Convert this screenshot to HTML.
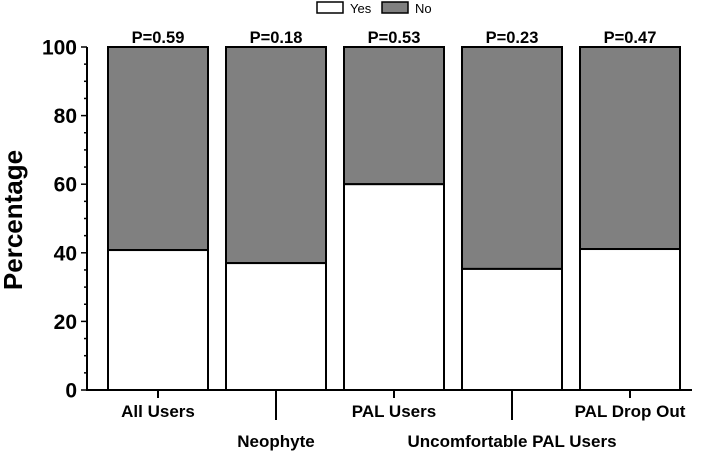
<!DOCTYPE html>
<html><head><meta charset="utf-8"><style>
body{margin:0;background:#fff}
svg{font-family:"Liberation Sans",Arial,sans-serif;font-weight:bold}
</style></head><body>
<svg width="702" height="454">
<g id="axes"></g><g id="bars"></g>
<g>
<rect x="317" y="2" width="26" height="11" fill="#fff" stroke="#000" stroke-width="1.5"/>
<text x="350" y="13" font-size="13" font-weight="normal">Yes</text>
<rect x="382" y="2" width="26" height="11" fill="#808080" stroke="#000" stroke-width="1.5"/>
<text x="415" y="13" font-size="13" font-weight="normal">No</text>
</g>
<text transform="translate(22,220) rotate(-90)" text-anchor="middle" font-size="26">Percentage</text>
</svg>
<script>
const categories=["All Users","Neophyte","PAL Users","Uncomfortable PAL Users","PAL Drop Out"];
const yesValues=[40.8,37,60,35.3,41.1];
const pLabels=["P=0.59","P=0.18","P=0.53","P=0.23","P=0.47"];
const yTicks=[0,20,40,60,80,100];
const NS="http://www.w3.org/2000/svg";
const y0=390,y100=47;
const yScale=v=>y0-(y0-y100)*v/100;
const xCenter=i=>158+i*118;
const bw=100;
function mk(t,a,p){const e=document.createElementNS(NS,t);for(const k in a)e.setAttribute(k,a[k]);p.appendChild(e);return e;}
const ax=document.getElementById('axes'),bars=document.getElementById('bars');
const yAxis=mk('line',{x1:87,y1:y0,x2:87,y2:y100,stroke:'#000','stroke-width':2},ax);


const xAxis=mk('line',{x1:86,y1:y0,x2:692,y2:y0,stroke:'#000','stroke-width':2},ax);


for(let v=0;v<=100;v+=5){
  const major=v%20===0;
  mk('line',{x1:major?81:84,y1:yScale(v),x2:87,y2:yScale(v),stroke:'#000','stroke-width':1.5},ax);
}
yTicks.forEach(v=>{
  const t=mk('text',{x:77,y:yScale(v)+7.5,'text-anchor':'end','font-size':21},ax);
  t.textContent=v;
  
  
});
categories.forEach((c,i)=>{
  const cx=xCenter(i),x=cx-bw/2,yy=yScale(yesValues[i]);
  const no=mk('rect',{x:x,y:y100,width:bw,height:yy-y100,fill:'#808080',stroke:'#000','stroke-width':2},bars);
  
  
  const yes=mk('rect',{x:x,y:yy,width:bw,height:y0-yy,fill:'#fff',stroke:'#000','stroke-width':2},bars);
  
  
  const p=mk('text',{x:cx,y:43,'text-anchor':'middle','font-size':16.5},bars);
  p.textContent=pLabels[i];
  
  
  const odd=i%2===1;
  mk('line',{x1:cx,y1:y0,x2:cx,y2:odd?420:398,stroke:'#000','stroke-width':2},ax);
  const l=mk('text',{x:cx,y:odd?447:417,'text-anchor':'middle','font-size':17},ax);
  l.textContent=c;
  
  
});
</script>
</body></html>
